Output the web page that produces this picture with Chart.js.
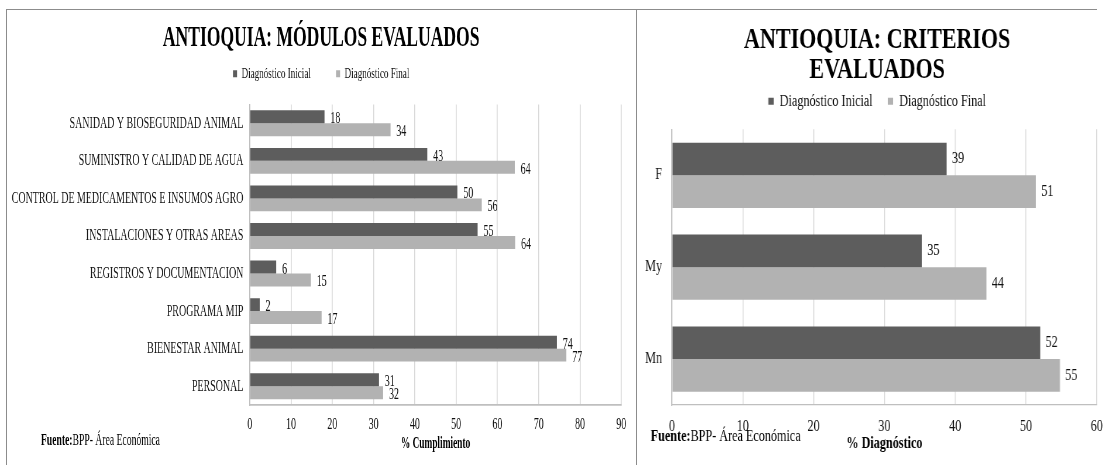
<!DOCTYPE html>
<meta charset="utf-8">
<style>
html, body {
  margin: 0;
  background: #fff;
}

body {
  position: relative;
  width: 1104px;
  height: 465px;
  overflow: hidden;
}

.rule {
  position: absolute;
  background: #8c8c8c;
}

/* the source picture is squeezed sideways, so each canvas is drawn wide and narrowed */
.panel {
  position: absolute;
  top: 10px;
  transform-origin: 0 0;
}

.panel--modulos {
  left: 7px;
  transform: scaleX(0.585);
}

.panel--criterios {
  left: 637px;
  transform: scaleX(0.76);
}
</style>
<body>

<div class="rule" style="left:6px;top:9px;width:1091px;height:1px"></div>
<div class="rule" style="left:6px;top:9px;width:1px;height:456px"></div>
<div class="rule" style="left:636px;top:9px;width:1px;height:456px"></div>

<div class="panel panel--modulos"><canvas id="modulos"></canvas></div>
<div class="panel panel--criterios"><canvas id="criterios"></canvas></div>

<script src="https://cdn.jsdelivr.net/npm/chart.js@4/dist/chart.umd.min.js"></script>
<script>
"use strict";

var seriesNames = ["Diagnóstico Inicial", "Diagnóstico Final"];
var sourceText = ["Fuente:", "BPP- Área Económica"];

var modulosTitle = "ANTIOQUIA: MÓDULOS EVALUADOS";
var modulosAxisTitle = "% Cumplimiento";
var modulos = [
  "SANIDAD Y BIOSEGURIDAD ANIMAL",
  "SUMINISTRO Y CALIDAD DE AGUA",
  "CONTROL DE MEDICAMENTOS E INSUMOS AGRO",
  "INSTALACIONES Y OTRAS AREAS",
  "REGISTROS Y DOCUMENTACION",
  "PROGRAMA MIP",
  "BIENESTAR ANIMAL",
  "PERSONAL"
];
var modulosInicial = [18.1, 43.0, 50.3, 55.2, 6.4, 2.4, 74.4, 31.3];
var modulosFinal = [34.1, 64.2, 56.2, 64.3, 14.8, 17.4, 76.7, 32.3];

var criteriosTitle = ["ANTIOQUIA: CRITERIOS", "EVALUADOS"];
var criteriosAxisTitle = "% Diagnóstico";
var criterios = ["F", "My", "Mn"];
var criteriosInicial = [38.8, 35.3, 52.0];
var criteriosFinal = [51.4, 44.4, 54.8];

var SERIF = "'Liberation Serif', 'Times New Roman', serif";
var DARK = "#5d5d5d";
var LIGHT = "#b2b2b2";
var INK = "#111";

// empty layout boxes: room under the legend, and on the right so the titles sit centred like the source
var spacer = {
  id: "spacer",
  beforeInit: function (chart, args, opts) {
    [["top", opts.top], ["right", opts.right]].forEach(function (side) {
      Chart.layouts.addBox(chart, {
        position: side[0],
        weight: 500,
        fullSize: false,
        options: {},
        isHorizontal: function () { return side[0] === "top"; },
        update: function (maxWidth, maxHeight) {
          this.width = side[0] === "top" ? maxWidth : side[1];
          this.height = side[0] === "top" ? side[1] : maxHeight;
        },
        draw: function () {}
      });
    });
  }
};

var barValues = {
  id: "barValues",
  afterDatasetsDraw: function (chart, args, opts) {
    var ctx = chart.ctx;
    ctx.save();
    ctx.font = opts.size + "px " + SERIF;
    ctx.fillStyle = INK;
    ctx.textAlign = "left";
    ctx.textBaseline = "middle";
    chart.data.datasets.forEach(function (dataset, i) {
      chart.getDatasetMeta(i).data.forEach(function (bar, j) {
        ctx.fillText(Math.round(dataset.data[j]), bar.x + opts.offset, bar.y + opts.dy);
      });
    });
    ctx.restore();
  }
};

var sourceNote = {
  id: "sourceNote",
  afterDraw: function (chart, args, opts) {
    var ctx = chart.ctx, x = opts.x;
    ctx.save();
    ctx.fillStyle = "#000";
    ctx.textAlign = "left";
    ctx.textBaseline = "middle";
    ctx.font = "bold " + opts.size + "px " + SERIF;
    ctx.fillText(sourceText[0], x, opts.y);
    x += ctx.measureText(sourceText[0]).width;
    ctx.font = opts.size + "px " + SERIF;
    ctx.fillText(sourceText[1], x, opts.y);
    ctx.restore();
  }
};

function drawPanel(id, s) {
  var canvas = document.getElementById(id);
  canvas.width = s.width;
  canvas.height = 455;

  return new Chart(canvas, {
    type: "bar",
    data: {
      labels: s.labels,
      datasets: [
        { label: seriesNames[0], data: s.inicial, backgroundColor: DARK },
        { label: seriesNames[1], data: s.final, backgroundColor: LIGHT }
      ]
    },
    plugins: [spacer, barValues, sourceNote],
    options: {
      indexAxis: "y",
      responsive: false,
      animation: false,
      devicePixelRatio: 1,
      categoryPercentage: s.category,
      barPercentage: 1,
      layout: { padding: { top: 0, left: 0, right: 0, bottom: 10 } },
      plugins: {
        title: {
          display: true,
          text: s.title,
          color: "#000",
          font: { family: SERIF, size: s.titleSize, weight: "bold", lineHeight: s.titleLine },
          padding: s.titlePad
        },
        legend: {
          labels: {
            boxWidth: 7,
            boxHeight: 7,
            padding: s.legendGap,
            color: INK,
            font: { family: SERIF, size: s.legendSize }
          }
        },
        tooltip: { enabled: false },
        spacer: { top: s.spaceTop, right: s.spaceRight },
        barValues: { size: s.valueSize, offset: s.valueOffset, dy: s.valueDy },
        sourceNote: { x: s.noteX, y: s.noteY, size: s.noteSize }
      },
      scales: {
        x: {
          min: 0,
          max: s.max,
          afterFit: function (scale) { scale.height = 50; },
          grid: { color: "#d9d9d9", lineWidth: s.line, drawTicks: false },
          border: { color: "#bfbfbf", width: s.line },
          ticks: {
            stepSize: 10,
            padding: s.tickPad,
            color: INK,
            font: { family: SERIF, size: s.tickSize }
          },
          title: {
            display: true,
            text: s.axisTitle,
            color: "#000",
            padding: { top: 0, bottom: 1.5 },
            font: { family: SERIF, size: s.axisTitleSize, weight: "bold" }
          }
        },
        y: {
          afterFit: function (scale) { scale.width = s.axisWidth; },
          grid: { display: false, drawTicks: false },
          border: { color: "#bfbfbf", width: s.line },
          ticks: {
            padding: s.labelPad,
            color: INK,
            font: { family: SERIF, size: s.labelSize }
          }
        }
      }
    }
  });
}

drawPanel("modulos", {
  width: 1074,
  labels: modulos,
  inicial: modulosInicial,
  final: modulosFinal,
  title: modulosTitle,
  axisTitle: modulosAxisTitle,
  max: 90,
  category: 0.69,
  axisWidth: 415,
  spaceTop: 13,
  spaceRight: 24,
  titleSize: 30,
  titleLine: 1.2,
  titlePad: { top: 10.5, bottom: -33.5 },
  legendSize: 15.5,
  legendGap: 43,
  line: 1.7,
  tickSize: 17,
  tickPad: 9,
  axisTitleSize: 16,
  labelSize: 17,
  labelPad: 11,
  valueSize: 17,
  valueOffset: 10,
  valueDy: 2,
  noteX: 58,
  noteY: 431,
  noteSize: 16.5
});

drawPanel("criterios", {
  width: 632,
  labels: criterios,
  inicial: criteriosInicial,
  final: criteriosFinal,
  title: criteriosTitle,
  axisTitle: criteriosAxisTitle,
  max: 60,
  category: 0.71,
  axisWidth: 46,
  spaceTop: 10,
  spaceRight: 27,
  titleSize: 29,
  titleLine: 1.04,
  titlePad: { top: 15, bottom: -12 },
  legendSize: 16,
  legendGap: 20,
  line: 1.3,
  tickSize: 16,
  tickPad: 12,
  axisTitleSize: 16,
  labelSize: 16,
  labelPad: 13,
  valueSize: 16,
  valueOffset: 7,
  valueDy: 0,
  noteX: 18,
  noteY: 427,
  noteSize: 16
});
</script>
</body>
